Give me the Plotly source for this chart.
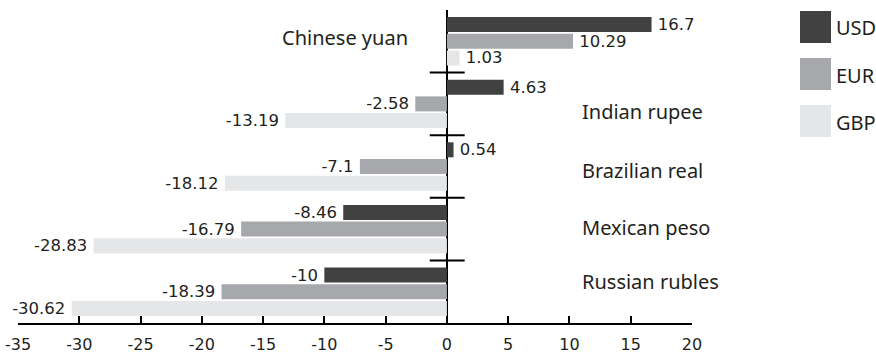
import plotly.graph_objects as go

# Currency change figures (%) against each of the three base currencies
currencies = ["Chinese yuan", "Indian rupee", "Brazilian real", "Mexican peso", "Russian rubles"]
usd = [16.7, 4.63, 0.54, -8.46, -10]
eur = [10.29, -2.58, -7.1, -16.79, -18.39]
gbp = [1.03, -13.19, -18.12, -28.83, -30.62]
series_names = ["USD", "EUR", "GBP"]
tick_values = [-35, -30, -25, -20, -15, -10, -5, 0, 5, 10, 15, 20]

colors = {"USD": "#414141", "EUR": "#a7a8ab", "GBP": "#e5e6e8"}
text_color = "#231f20"
num_font = dict(family="DejaVu Sans", size=16.5, color=text_color)
label_font = dict(family="Noto Sans", size=20, color=text_color)
legend_font = dict(family="Noto Sans", size=20, color=text_color)

W, H = 876, 354
M = dict(l=18, r=184, t=10, b=31)
THIN = "\u2009"


def value_label(v):
    # a thin space keeps the number a little clear of the bar end
    return f"{THIN}{v:g}" if v >= 0 else f"{v:g}{THIN}"


fig = go.Figure()
for name, vals in zip(series_names, [usd, eur, gbp]):
    fig.add_trace(go.Bar(
        y=currencies, x=vals, orientation="h", name=name,
        marker=dict(color=colors[name], line=dict(width=0)),
        text=[value_label(v) for v in vals], textposition="outside",
        textfont=num_font, constraintext="none", cliponaxis=False,
        showlegend=False,
    ))

# short cross-bars on the zero line between currency groups
shapes = []
for i in range(len(currencies) - 1):
    shapes.append(dict(type="line", xref="x", yref="y", x0=-1.4, x1=1.45,
                       y0=i + 0.5, y1=i + 0.5, line=dict(color="black", width=2)))

# hand-built legend with large swatches to the right of the plot
plot_w = W - M["l"] - M["r"]
plot_h = H - M["t"] - M["b"]


def px_x(p):
    return (p - M["l"]) / plot_w


def px_y(p):
    return 1 - (p - M["t"]) / plot_h


annotations = []
for k, name in enumerate(series_names):
    top = 11 + 47 * k
    shapes.append(dict(type="rect", xref="paper", yref="paper",
                       x0=px_x(800), x1=px_x(831), y0=px_y(top + 32), y1=px_y(top),
                       fillcolor=colors[name], line=dict(width=0)))
    annotations.append(dict(xref="paper", yref="paper", x=px_x(834), y=px_y(top + 17),
                            text=name, showarrow=False, xanchor="left", yanchor="middle",
                            font=legend_font))

# currency names, placed on the side away from most of the bars
label_x = [-3.0, 10.85, 10.85, 10.85, 10.85]
label_anchor = ["right", "left", "left", "left", "left"]
label_shift = [4, -8, -4, 2, 10]
for cur, lx, anc, sh in zip(currencies, label_x, label_anchor, label_shift):
    annotations.append(dict(xref="x", yref="y", x=lx, y=cur, text=cur, showarrow=False,
                            xanchor=anc, yanchor="middle", yshift=sh, font=label_font))

fig.update_layout(
    width=W, height=H, margin=M,
    paper_bgcolor="white", plot_bgcolor="white",
    barmode="group", bargap=0.2, bargroupgap=0.1,
    shapes=shapes, annotations=annotations,
    xaxis=dict(range=[-35, 20], tickvals=tick_values,
               ticktext=[str(v) for v in tick_values],
               showgrid=False, zeroline=True, zerolinecolor="black", zerolinewidth=2,
               showline=True, linecolor="black", linewidth=2,
               ticks="inside", ticklen=7, tickwidth=2, tickcolor="black",
               ticklabelstandoff=6, automargin=False,
               tickfont=dict(family="DejaVu Sans", size=16, color=text_color)),
    yaxis=dict(autorange="reversed", showticklabels=False, showgrid=False,
               zeroline=False, showline=False, ticks="", automargin=False),
)

fig.write_html("out.html")
